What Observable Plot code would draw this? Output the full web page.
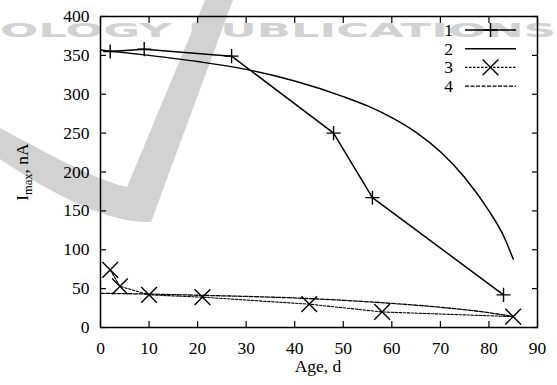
<!DOCTYPE html>
<html><head><meta charset="utf-8">
<script src="https://cdn.jsdelivr.net/npm/d3@7"></script>
<script src="https://cdn.jsdelivr.net/npm/@observablehq/plot@0.6"></script>
<style>body{margin:0;background:#fff} #chart{width:557px;height:385px} #chart svg text{font-family:"Liberation Serif",serif}</style>
</head><body><div id="chart"></div><script>
// Series 1: measured (+ markers, solid)
const s1Age = [2, 9, 27, 48, 56, 83];
const s1I = [355, 358, 349, 250, 167, 42];
// Series 2: model curve (solid)
const s2Age = [0, 10, 20, 30, 40, 50, 55, 60, 65, 70, 75, 80, 83, 85];
const s2I = [357, 350, 342, 332, 317, 297, 285, 270, 251, 226, 193, 150, 118, 88];
// Series 3: measured (x markers, dashed)
const s3Age = [2, 4, 10, 21, 43, 58, 85];
const s3I = [74, 53, 42, 39, 30, 20, 14];
// Series 4: model curve (dashed)
const s4Age = [0, 10, 20, 30, 40, 50, 60, 70, 80, 85];
const s4I = [44, 43, 41.5, 40, 38, 35, 31, 26, 19, 14];

const xTicks = [0, 10, 20, 30, 40, 50, 60, 70, 80, 90];
const yTicks = [0, 50, 100, 150, 200, 250, 300, 350, 400];
const legendLabels = ["1", "2", "3", "4"];
const xLabel = "Age, d";
const watermark = "OLOGY PUBLICATIONS";

const tbl = (xs, ys) => xs.map((a, i) => ({age: a, I: ys[i]}));
const d1 = tbl(s1Age, s1I), d2 = tbl(s2Age, s2I), d3s = tbl(s3Age, s3I), d4 = tbl(s4Age, s4I);

const font = "Liberation Serif";
const fs = 17.5;
const dash3 = "2.5,1.5", dash4 = "4,1.5";
const wmGray = "#d2d2d2";

const plot = Plot.plot({
  width: 557, height: 385,
  marginLeft: 100, marginRight: 20, marginTop: 16, marginBottom: 58,
  x: {domain: [0, 90]},
  y: {domain: [0, 400]},
  style: {fontFamily: font, fontSize: fs + "px", color: "#000", background: "transparent", overflow: "visible"},
  marks: [
    Plot.axisX(xTicks, {anchor: "bottom", tickSize: 6, dy: -6, fill: "none", label: null, strokeWidth: 1.2}),
    Plot.axisX(xTicks, {anchor: "top", tickSize: 6, dy: 6, fill: "none", label: null, strokeWidth: 1.2}),
    Plot.axisY(yTicks, {anchor: "left", tickSize: 6, dx: 6, fill: "none", label: null, strokeWidth: 1.2}),
    Plot.axisY(yTicks, {anchor: "right", tickSize: 6, dx: -6, fill: "none", label: null, strokeWidth: 1.2}),
    Plot.axisX(xTicks, {anchor: "bottom", tickSize: 0, tickPadding: 14, label: null, fontSize: fs, fontFamily: font}),
    Plot.axisY(yTicks, {anchor: "left", tickSize: 0, tickPadding: 11, label: null, fontSize: fs, fontFamily: font}),
    Plot.frame({strokeWidth: 1.5}),
    Plot.line(d4, {x: "age", y: "I", curve: "monotone-x", stroke: "black", strokeWidth: 1.3, strokeDasharray: dash4}),
    Plot.line(d3s, {x: "age", y: "I", stroke: "black", strokeWidth: 1.1, strokeDasharray: dash3}),
    Plot.line(d2, {x: "age", y: "I", curve: "monotone-x", stroke: "black", strokeWidth: 1.5}),
    Plot.line(d1, {x: "age", y: "I", stroke: "black", strokeWidth: 1.5}),
    Plot.dot(d1, {x: "age", y: "I", symbol: "plus", r: 4.6, stroke: "black", strokeWidth: 1.4}),
    Plot.dot(d3s, {x: "age", y: "I", symbol: "times", r: 7.2, stroke: "black", strokeWidth: 1.4})
  ]
});
document.getElementById("chart").appendChild(plot);

const svg = d3.select(plot);
// faint publisher watermark (swoosh + text) behind everything
const wm = svg.insert("g", ":first-child");
wm.append("path")
  .attr("d", "M0,128 C45,152 95,180 127,187 L205,0 L233,0 L151,222 C115,224 60,200 0,159 Z")
  .attr("fill", wmGray);
wm.append("text")
  .attr("x", 0).attr("y", 37).attr("text-anchor", "start")
  .attr("textLength", 556).attr("lengthAdjust", "spacingAndGlyphs")
  .attr("style", "font-family:'DejaVu Sans',sans-serif")
  .attr("font-weight", "bold")
  .attr("font-size", 19.5).attr("fill", wmGray)
  .text(watermark);

// x-axis title
svg.append("text").attr("x", 318).attr("y", 372).attr("text-anchor", "middle")
  .attr("font-size", fs).text(xLabel);

// y-axis title with subscript
const yl = svg.append("text").attr("transform", "translate(28,172) rotate(-90)")
  .attr("text-anchor", "middle").attr("font-size", fs);
yl.append("tspan").text("I");
yl.append("tspan").attr("dy", 3.5).attr("font-size", 12.5).text("max");
yl.append("tspan").attr("dy", -3.5).text(", nA");

// legend
const lg = svg.append("g");
const styles = [
  {dash: null, w: 1.5, sym: d3.symbolPlus, r: 4.6},
  {dash: null, w: 1.5, sym: null},
  {dash: dash3, w: 1.1, sym: d3.symbolTimes, r: 7.2},
  {dash: dash4, w: 1.3, sym: null}
];
legendLabels.forEach((lab, i) => {
  const y = 30 + i * 18.7;
  const st = styles[i];
  lg.append("text").attr("x", 453).attr("y", y).attr("dy", "0.34em").attr("text-anchor", "end")
    .attr("font-size", fs).text(lab);
  lg.append("line").attr("x1", 465).attr("x2", 516).attr("y1", y).attr("y2", y)
    .attr("stroke", "black").attr("stroke-width", st.w).attr("stroke-dasharray", st.dash);
  if (st.sym) {
    lg.append("path").attr("transform", `translate(490.5,${y})`)
      .attr("d", d3.symbol(st.sym, Math.PI * st.r * st.r)())
      .attr("fill", "none").attr("stroke", "black").attr("stroke-width", 1.4);
  }
});
</script></body></html>
